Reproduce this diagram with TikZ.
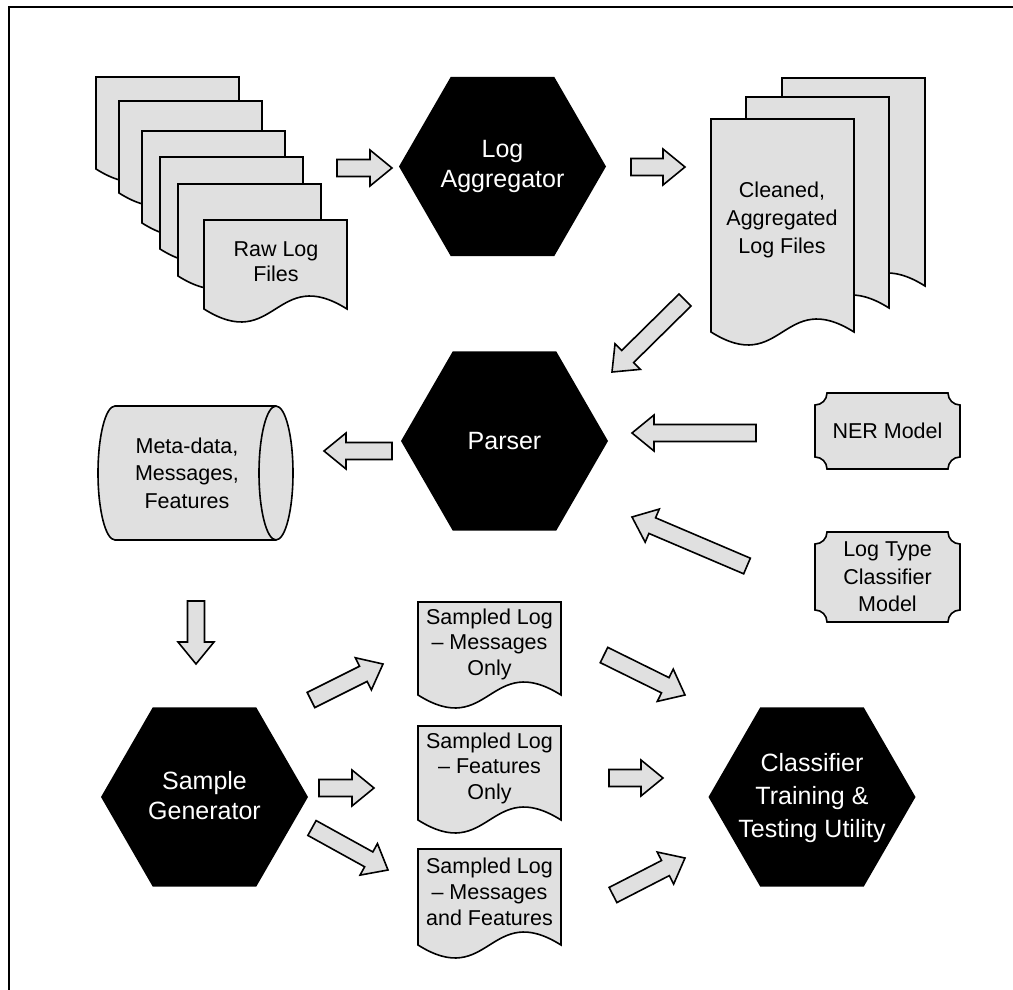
\documentclass[tikz,border=0pt]{standalone}
\usepackage{fontspec}
\setmainfont{Liberation Sans}
\usetikzlibrary{calc,shapes.geometric}
\definecolor{pg}{RGB}{224,224,224}
\tikzset{
 outl/.style={draw=black, line width=1.6pt, fill=pg, line join=miter},
 barr/.style={draw=black, line width=1.6pt, fill=pg, line join=miter},
 hexa/.style={regular polygon, regular polygon sides=6, fill=black, draw=none, minimum size=207pt, inner sep=0pt},
 hextxt/.style={text=white, align=center, font=\fontsize{25}{30}\selectfont, inner sep=0pt},
 doctxt/.style={text=black, align=center, font=\fontsize{21.5}{26}\selectfont, inner sep=0pt},
 frame/.style={draw=black, line width=1.6pt},
}
\newcommand\docshape[4]{%
  \draw[outl] (#1,#2) -- ({#1+#3},#2) -- ({#1+#3},{#2+#4})
    .. controls ({#1+0.5*#3},{#2+#4-45}) and ({#1+0.5*#3},{#2+#4+45}) .. (#1,{#2+#4}) -- cycle;}
\newcommand\plaque[5]{%
 \draw[outl] ({#1+#5},#2) -- ({#1+#3-#5},#2)
   .. controls ({#1+#3-#5},{#2+0.552*#5}) and ({#1+#3-0.552*#5},{#2+#5}) .. ({#1+#3},{#2+#5})
   -- ({#1+#3},{#2+#4-#5})
   .. controls ({#1+#3-0.552*#5},{#2+#4-#5}) and ({#1+#3-#5},{#2+#4-0.552*#5}) .. ({#1+#3-#5},{#2+#4})
   -- ({#1+#5},{#2+#4})
   .. controls ({#1+#5},{#2+#4-0.552*#5}) and ({#1+0.552*#5},{#2+#4-#5}) .. (#1,{#2+#4-#5})
   -- (#1,{#2+#5})
   .. controls ({#1+0.552*#5},{#2+#5}) and ({#1+#5},{#2+0.552*#5}) .. ({#1+#5},#2) -- cycle;}
\newcommand\blockarrow[2]{%
  \coordinate (#1-hb) at ($(#2)!22pt!(#1)$);
  \draw[barr] ($(#1)!8.5pt!90:(#2)$) -- ($(#1-hb)!8.5pt!90:(#2)$) -- ($(#1-hb)!18pt!90:(#2)$)
    -- (#2) -- ($(#1-hb)!18pt!-90:(#2)$) -- ($(#1-hb)!8.5pt!-90:(#2)$) -- ($(#1)!8.5pt!-90:(#2)$) -- cycle;}
\begin{document}
\begin{tikzpicture}[x=1pt,y=-1pt]
\useasboundingbox (0,0) rectangle (1013,990);
% frame
\coordinate (fr1) at (1013,7);
\coordinate (fr2) at (9,7);
\coordinate (fr3) at (9,990);
\draw[frame] (fr1) -- (fr2) -- (fr3);

% raw log files stack
\docshape{96}{77}{143}{92}
\docshape{119}{101}{143}{92}
\docshape{142}{131}{143}{92}
\docshape{160}{157}{143}{92}
\docshape{178}{184}{143}{92}
\docshape{204}{220}{143}{89}
\node[doctxt, font=\fontsize{21.5}{25}\selectfont] (raw) at (276,262) {Raw Log\\Files};

% cleaned stack
\docshape{782}{78}{143}{208}
\docshape{746}{97}{143}{211}
\docshape{711}{119}{143}{213}
\node[doctxt, font=\fontsize{21.5}{28}\selectfont] (clean) at (782,220) {Cleaned,\\Aggregated\\Log Files};

% hexagons
\node[hexa] (agg) at (502.5,166.5) {};
\node[hextxt] (aggt) at (agg) {Log\\Aggregator};
\node[hexa] (parser) at (504.5,441) {};
\node[hextxt] (parsert) at (parser) {Parser};
\node[hexa] (sgen) at (204.5,797) {};
\node[hextxt] (sgent) at (204.5,796) {Sample\\Generator};
\node[hexa] (clf) at (812,797) {};
\node[hextxt, font=\fontsize{25}{33}\selectfont] (clft) at (812,798) {Classifier\\Training \&\\Testing Utility};

% NER and log type boxes
\plaque{815}{393}{145}{76}{12}
\node[doctxt] (ner) at (887.5,431) {NER Model};
\plaque{815}{532}{145}{90}{12}
\node[doctxt, font=\fontsize{21.5}{27.5}\selectfont] (ltc) at (887.5,577) {Log Type\\Classifier\\Model};

% cylinder
\draw[outl] (115,406) -- (276,406)
  .. controls (285.4,406) and (293,436) .. (293,473)
  .. controls (293,510) and (285.4,540) .. (276,540)
  -- (115,540)
  .. controls (105.6,540) and (98,510) .. (98,473)
  .. controls (98,436) and (105.6,406) .. (115,406) -- cycle;
\draw[outl, fill=none] (276,406) .. controls (266.6,406) and (259,436) .. (259,473)
  .. controls (259,510) and (266.6,540) .. (276,540);
\node[doctxt, font=\fontsize{21.5}{27.5}\selectfont] (meta) at (187,473) {Meta-data,\\Messages,\\Features};

% sampled logs
\docshape{418}{602}{143}{93}
\node[doctxt, font=\fontsize{21.5}{25.5}\selectfont] (s1) at (489.5,644) {Sampled Log\\– Messages\\Only};
\docshape{418}{726}{143}{94}
\node[doctxt, font=\fontsize{21.5}{25.5}\selectfont] (s2) at (489.5,768) {Sampled Log\\– Features\\Only};
\docshape{418}{849}{143}{96}
\node[doctxt, font=\fontsize{21.5}{26}\selectfont] (s3) at (489.5,892) {Sampled Log\\– Messages\\and Features};

% arrows
\coordinate (a1) at (337,168); \coordinate (a1e) at (392,168);
\coordinate (a2) at (631,167); \coordinate (a2e) at (685,167);
\coordinate (a3) at (685,300); \coordinate (a3e) at (612,372);
\coordinate (a4) at (756,433); \coordinate (a4e) at (632,433);
\coordinate (a5) at (747,566); \coordinate (a5e) at (632,517);
\coordinate (a6) at (392,451); \coordinate (a6e) at (324,451);
\coordinate (a7) at (196,601); \coordinate (a7e) at (196,664);
\coordinate (a8) at (311,700); \coordinate (a8e) at (383,664);
\coordinate (a9) at (319,788); \coordinate (a9e) at (374,788);
\coordinate (a10) at (312,828); \coordinate (a10e) at (388,870);
\coordinate (a11) at (604,655); \coordinate (a11e) at (685,695);
\coordinate (a12) at (609,778); \coordinate (a12e) at (663,778);
\coordinate (a13) at (613,895); \coordinate (a13e) at (685,858);
\blockarrow{a1}{a1e}
\blockarrow{a2}{a2e}
\blockarrow{a3}{a3e}
\blockarrow{a4}{a4e}
\blockarrow{a5}{a5e}
\blockarrow{a6}{a6e}
\blockarrow{a7}{a7e}
\blockarrow{a8}{a8e}
\blockarrow{a9}{a9e}
\blockarrow{a10}{a10e}
\blockarrow{a11}{a11e}
\blockarrow{a12}{a12e}
\blockarrow{a13}{a13e}
\end{tikzpicture}
\end{document}
